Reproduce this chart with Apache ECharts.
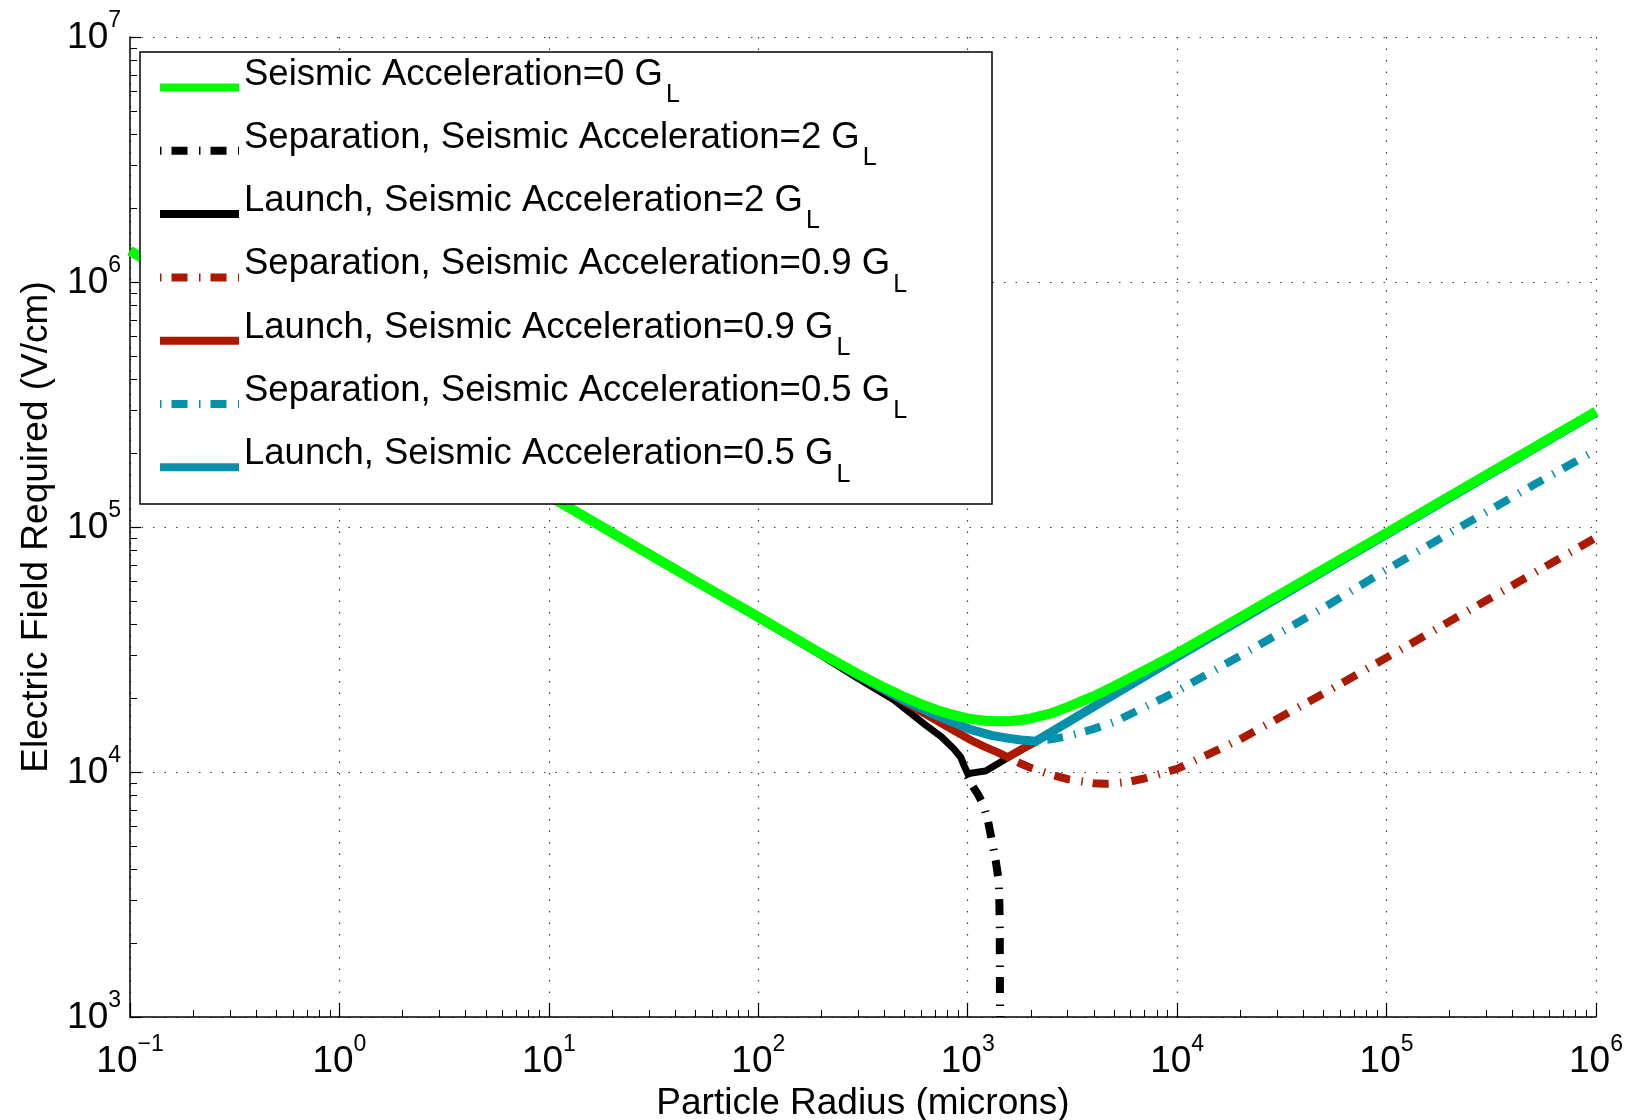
<!DOCTYPE html>
<html>
<head>
<meta charset="utf-8">
<script src="https://cdn.jsdelivr.net/npm/echarts@6/dist/echarts.min.js"></script>
<style>
  html, body { margin: 0; padding: 0; background: #fff; }
  #chart { width: 1632px; height: 1120px; }
</style>
</head>
<body>
<div id="chart"></div>
<script>
// Particle radius (microns) and electric field required (V/cm) for each curve.

// Seismic acceleration = 0
const rGreen = [0.1, 0.2, 0.5, 1, 2, 5, 10, 20, 50, 100, 200, 300, 400, 500, 600, 700, 800, 900, 1000, 1200, 1400, 1600, 1800, 2000, 2500, 3000, 4000, 5000, 7000, 10000, 20000, 50000, 100000, 200000, 500000, 1000000];
const eGreen = [1.34e6, 9.49e5, 6.0e5, 4.24e5, 3.0e5, 1.9e5, 1.34e5, 9.49e4, 6.02e4, 4.3e4, 3.04e4, 2.51e4, 2.21e4, 2.02e4, 1.89e4, 1.8e4, 1.735e4, 1.69e4, 1.655e4, 1.62e4, 1.61e4, 1.615e4, 1.63e4, 1.655e4, 1.735e4, 1.84e4, 2.04e4, 2.24e4, 2.6e4, 3.05e4, 4.28e4, 6.72e4, 9.45e4, 1.335e5, 2.1e5, 2.96e5];

// Separation, 2 G_L
const rSep2 = [1000, 1050, 1120, 1193, 1250, 1308, 1360, 1406, 1416, 1422, 1424, 1426];
const eSep2 = [9.6e3, 8.82e3, 8.1e3, 7.31e3, 6.3e3, 5.17e3, 4.35e3, 3.61e3, 2.95e3, 2.4e3, 1.75e3, 1.0e3];

// Launch, 2 G_L
const rLaunch2 = [0.1, 1, 10, 100, 200, 300, 443, 620, 750, 860, 926, 958, 1000, 1218, 1380, 1545, 1800, 2113];
const eLaunch2 = [1.34e6, 4.24e5, 1.34e5, 4.25e4, 2.99e4, 2.41e4, 1.97e4, 1.57e4, 1.39e4, 1.24e4, 1.15e4, 1.07e4, 9.85e3, 1.01e4, 1.075e4, 1.14e4, 1.23e4, 1.33e4];

// Separation, 0.9 G_L
const rSep09 = [1550, 1800, 2000, 2500, 3000, 4000, 4500, 5000, 6000, 7000, 10000, 20000, 50000, 100000, 200000, 500000, 1000000];
const eSep09 = [1.15e4, 1.08e4, 1.04e4, 9.75e3, 9.35e3, 9.0e3, 8.95e3, 8.98e3, 9.15e3, 9.42e3, 1.03e4, 1.36e4, 2.09e4, 2.93e4, 4.12e4, 6.45e4, 9.05e4];

// Launch, 0.9 G_L
const rLaunch09 = [0.1, 1, 10, 100, 200, 300, 500, 640, 800, 1032, 1200, 1400, 1550, 1800, 2113, 2300];
const eLaunch09 = [1.34e6, 4.24e5, 1.34e5, 4.27e4, 3.02e4, 2.47e4, 1.93e4, 1.71e4, 1.53e4, 1.35e4, 1.27e4, 1.2e4, 1.15e4, 1.235e4, 1.33e4, 1.39e4];

// Separation, 0.5 G_L
const rSep05 = [2113, 2500, 3000, 4000, 5000, 7000, 10000, 20000, 50000, 100000, 200000, 500000, 1000000];
const eSep05 = [1.335e4, 1.36e4, 1.4e4, 1.5e4, 1.6e4, 1.84e4, 2.14e4, 2.98e4, 4.68e4, 6.7e4, 9.45e4, 1.48e5, 2.06e5];

// Launch, 0.5 G_L
const rLaunch05 = [0.1, 1, 10, 100, 200, 300, 500, 700, 1032, 1300, 1545, 1800, 2113, 2400, 2782, 3223, 4000, 4650, 5500, 6714, 8000, 10000, 20000, 50000, 100000, 1000000];
const eLaunch05 = [1.34e6, 4.24e5, 1.34e5, 4.28e4, 3.03e4, 2.48e4, 1.96e4, 1.71e4, 1.49e4, 1.41e4, 1.375e4, 1.35e4, 1.335e4, 1.425e4, 1.536e4, 1.656e4, 1.849e4, 1.996e4, 2.175e4, 2.407e4, 2.632e4, 2.95e4, 4.17e4, 6.6e4, 9.33e4, 2.93e5];

// Axis decades (exponents) used for tick labels and minor ticks
const xExponents = [-1, 0, 1, 2, 3, 4, 5, 6];
const yExponents = [3, 4, 5, 6, 7];
const minorSteps = [2, 3, 4, 5, 6, 7, 8, 9];

const FONT = '"Liberation Sans", Helvetica, Arial, sans-serif';
const GREEN = '#00ff00', BLACK = '#000000', RED = '#aa1900', CYAN = '#0790aa';
const DASH_DOT = [1.5, 10, 16, 11.5];

const zip = (xs, ys) => xs.map((x, i) => [x, ys[i]]);

function minorTicks(exps) {
  const out = [];
  for (let k = 0; k < exps.length - 1; k++) {
    for (const m of minorSteps) out.push(m * Math.pow(10, exps[k]));
  }
  return out;
}

function powerLabel(v) {
  const e = Math.round(Math.log10(v));
  return '{b|10}{s|' + String(e).replace('-', '\u2212') + '}';
}

const labelRich = {
  b: { fontFamily: FONT, fontSize: 37, color: '#000', lineHeight: 38, verticalAlign: 'bottom' },
  s: { fontFamily: FONT, fontSize: 23, color: '#000', height: 6, lineHeight: 6, verticalAlign: 'top' }
};

const gridLine = { show: true, lineStyle: { color: '#3a3a3a', width: 1.2, type: [1.5, 10] } };

function lineSeries(name, data, color, width, dashed) {
  return {
    name: name,
    type: 'line',
    data: data,
    symbol: 'none',
    showSymbol: false,
    smooth: false,
    clip: true,
    xAxisIndex: 0,
    yAxisIndex: 0,
    emphasis: { disabled: true },
    itemStyle: { color: color },
    lineStyle: {
      color: color,
      width: width,
      type: dashed ? DASH_DOT : 'solid',
      cap: 'butt',
      join: 'miter'
    }
  };
}

const names = {
  g0: 'Seismic Acceleration=0 G',
  s2: 'Separation, Seismic Acceleration=2 G',
  l2: 'Launch, Seismic Acceleration=2 G',
  s09: 'Separation, Seismic Acceleration=0.9 G',
  l09: 'Launch, Seismic Acceleration=0.9 G',
  s05: 'Separation, Seismic Acceleration=0.5 G',
  l05: 'Launch, Seismic Acceleration=0.5 G'
};

const chart = echarts.init(document.getElementById('chart'), null, { renderer: 'canvas' });

chart.setOption({
  animation: false,
  backgroundColor: '#fff',
  grid: { left: 130, right: 36, top: 37, bottom: 103, containLabel: false, outerBoundsMode: 'none' },
  xAxis: [
    {
      type: 'log', logBase: 10, min: 0.1, max: 1e6, interval: 1, position: 'bottom',
      axisLine: { show: true, onZero: false, lineStyle: { color: '#000', width: 1.5 } },
      axisTick: { show: true, inside: true, length: 14, lineStyle: { color: '#000', width: 1.2 } },
      axisLabel: { show: true, margin: 25, formatter: powerLabel, rich: labelRich, showMinLabel: true, showMaxLabel: true },
      splitLine: gridLine,
      name: 'Particle Radius (microns)', nameLocation: 'middle', nameGap: 58,
      nameTextStyle: { fontFamily: FONT, fontSize: 37, color: '#000' }
    },
    {
      type: 'log', logBase: 10, min: 0.1, max: 1e6, position: 'bottom',
      axisLine: { show: false },
      axisTick: { show: true, inside: true, length: 7, customValues: minorTicks(xExponents), lineStyle: { color: '#000', width: 1 } },
      axisLabel: { show: false },
      splitLine: { show: false }
    }
  ],
  yAxis: [
    {
      type: 'log', logBase: 10, min: 1e3, max: 1e7, interval: 1, position: 'left',
      axisLine: { show: true, onZero: false, lineStyle: { color: '#000', width: 1.5 } },
      axisTick: { show: true, inside: true, length: 11, lineStyle: { color: '#000', width: 1.2 } },
      axisLabel: { show: true, margin: 9, formatter: powerLabel, rich: labelRich, showMinLabel: true, showMaxLabel: true },
      splitLine: gridLine,
      name: 'Electric Field Required (V/cm)', nameLocation: 'middle', nameGap: 75, nameRotate: 90,
      nameTextStyle: { fontFamily: FONT, fontSize: 37, color: '#000' }
    },
    {
      type: 'log', logBase: 10, min: 1e3, max: 1e7, position: 'left',
      axisLine: { show: false },
      axisTick: { show: true, inside: true, length: 7, customValues: minorTicks(yExponents), lineStyle: { color: '#000', width: 1 } },
      axisLabel: { show: false },
      splitLine: { show: false }
    }
  ],
  // legend frame, on its own layer above the curves
  graphic: {
    zlevel: 1,
    z: 0,
    elements: [
      {
        type: 'rect', zlevel: 1, z: 0,
        shape: { x: 140, y: 52, width: 852, height: 452 },
        style: { fill: '#fff', stroke: '#000', lineWidth: 1.5 }
      }
    ]
  },
  legend: {
    orient: 'vertical', left: 156, top: 56, padding: 0, itemGap: 2.8,
    itemWidth: 79, itemHeight: 14, selectedMode: false, zlevel: 1, z: 5,
    lineStyle: { width: 8 },
    itemStyle: { opacity: 0, borderWidth: 0 },
    data: [names.g0, names.s2, names.l2, names.s09, names.l09, names.s05, names.l05],
    formatter: n => '{m|' + n + '}{sub|L}',
    textStyle: {
      fontFamily: FONT, fontSize: 36.5, color: '#000', padding: [15, 0, 0, 0],
      rich: {
        m: { fontFamily: FONT, fontSize: 36.5, color: '#000', height: 2, lineHeight: 2, verticalAlign: 'top' },
        sub: { fontFamily: FONT, fontSize: 25, color: '#000', height: 43, lineHeight: 43, verticalAlign: 'top', padding: [0, 0, 0, 3] }
      }
    }
  },
  series: [
    lineSeries(names.s2, zip(rSep2, eSep2), BLACK, 8, true),
    lineSeries(names.l2, zip(rLaunch2, eLaunch2), BLACK, 7, false),
    lineSeries(names.s09, zip(rSep09, eSep09), RED, 8, true),
    lineSeries(names.l09, zip(rLaunch09, eLaunch09), RED, 8, false),
    lineSeries(names.s05, zip(rSep05, eSep05), CYAN, 8, true),
    lineSeries(names.l05, zip(rLaunch05, eLaunch05), CYAN, 9, false),
    lineSeries(names.g0, zip(rGreen, eGreen), GREEN, 10, false)
  ]
});
</script>
</body>
</html>
